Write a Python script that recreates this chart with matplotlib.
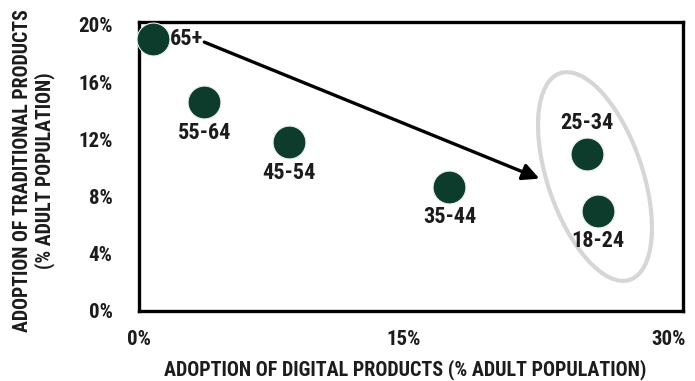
import matplotlib
matplotlib.use("Agg")
import matplotlib.pyplot as plt
from matplotlib.patches import Ellipse
from matplotlib.transforms import ScaledTranslation

plt.rcParams['font.family'] = ['Roboto Condensed', 'DejaVu Sans']
plt.rcParams['font.weight'] = 'bold'

# age groups: digital adoption (x, %) vs traditional adoption (y, %)
groups = ['65+', '55-64', '45-54', '35-44', '25-34', '18-24']
digital = [0.8, 3.7, 8.5, 17.6, 25.4, 26.0]
traditional = [19.0, 14.6, 11.8, 8.7, 11.0, 7.0]

x_ticks = [0, 15, 30]
x_tick_labels = ['0%', '15%', '30%']
y_ticks = [0, 4, 8, 12, 16, 20]
y_tick_labels = ['0%', '4%', '8%', '12%', '16%', '20%']

# where each label sits relative to its dot (points)
label_offsets = {
    '65+': (12, 0, 'left', 'center'),
    '55-64': (0, -14, 'center', 'top'),
    '45-54': (0, -14, 'center', 'top'),
    '35-44': (0, -14, 'center', 'top'),
    '25-34': (0, 14, 'center', 'bottom'),
    '18-24': (0, -14, 'center', 'top'),
}

dot_color = '#0d3b2c'
text_color = '#1c1c1c'

fig = plt.figure(figsize=(6.95, 3.81), dpi=100)
ax = fig.add_axes([0.2, 0.184, 0.783, 0.758])

ax.scatter(digital, traditional, s=560, color=dot_color, edgecolor='#e6f0ea',
           linewidth=0.8, zorder=3, clip_on=False)

for name, x, y in zip(groups, digital, traditional):
    dx, dy, ha, va = label_offsets[name]
    ax.annotate(name, (x, y), xytext=(dx, dy), textcoords='offset points',
                ha=ha, va=va, fontsize=16, fontweight='bold', color=text_color,
                zorder=4)

# trend arrow from the oldest group to the youngest cluster
ax.annotate('', xy=(22.7, 9.25), xytext=(3.7, 18.8),
            arrowprops=dict(arrowstyle='-|>,head_length=1.0,head_width=0.5',
                            color='black', lw=2.4, shrinkA=0, shrinkB=0),
            zorder=2)

# grey ring around the two youngest groups
ring = Ellipse((0, 0), 0.95, 2.18, angle=18.7, fill=False,
               edgecolor='#d6d6d6', linewidth=3,
               transform=fig.dpi_scale_trans + ScaledTranslation(25.85, 9.4, ax.transData),
               zorder=1)
ax.add_patch(ring)

ax.set_xlim(0, 30.85)
ax.set_ylim(0, 20.2)
ax.set_xticks(x_ticks)
ax.set_xticklabels(x_tick_labels)
ax.set_yticks(y_ticks)
ax.set_yticklabels(y_tick_labels)
ax.tick_params(axis='both', length=0, labelsize=15, colors=text_color)
ax.tick_params(axis='x', pad=14)
ax.tick_params(axis='y', pad=19)
for lab in ax.get_xticklabels() + ax.get_yticklabels():
    lab.set_fontweight('bold')

for sp in ax.spines.values():
    sp.set_linewidth(2.4)
    sp.set_color('black')

fig.text(405 / 695, 1 - 370 / 381,
         'ADOPTION OF DIGITAL PRODUCTS (% ADULT POPULATION)',
         ha='center', va='center', fontsize=14.5, fontweight='bold', color=text_color)
fig.text(34 / 695, 1 - 171 / 381,
         'ADOPTION OF TRADITIONAL PRODUCTS\n(% ADULT POPULATION)',
         ha='center', va='center', rotation=90, multialignment='center',
         fontsize=14.3, fontweight='bold', color=text_color, linespacing=1.1)

fig.savefig('out.png', dpi=100)
